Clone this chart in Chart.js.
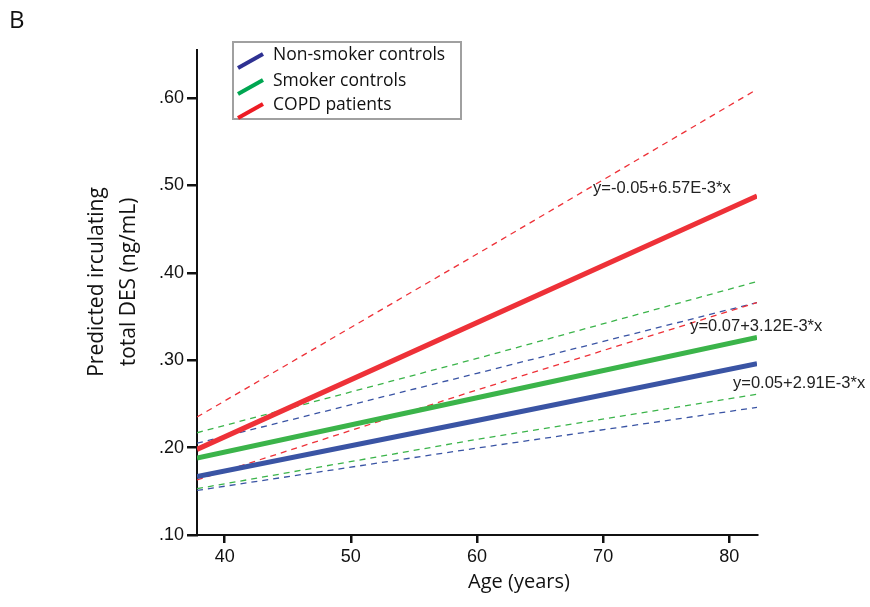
<!DOCTYPE html>
<html>
<head>
<meta charset="utf-8">
<script src="https://cdn.jsdelivr.net/npm/chart.js@4.4.0/dist/chart.umd.min.js"></script>
<style>
  html, body { margin: 0; padding: 0; background: #fff; }
</style>
</head>
<body>
<canvas id="regChart" width="870" height="607"></canvas>
<script>
var ages = [37.8, 60, 82.2];
var xTicks = [40, 50, 60, 70, 80];
var yTicks = [0.10, 0.20, 0.30, 0.40, 0.50, 0.60];

var groupNames = ['Non-smoker controls', 'Smoker controls', 'COPD patients'];

var nonSmoker      = [0.167, 0.231, 0.296];
var nonSmokerUpper = [0.205, 0.285, 0.366];
var nonSmokerLower = [0.151, 0.1995, 0.246];

var smoker      = [0.188, 0.257, 0.326];
var smokerUpper = [0.217, 0.302, 0.390];
var smokerLower = [0.153, 0.2095, 0.261];

var copd      = [0.198, 0.343, 0.488];
var copdUpper = [0.235, 0.4215, 0.610];
var copdLower = [0.163, 0.266, 0.366];

var equations = ['y=0.05+2.91E-3*x', 'y=0.07+3.12E-3*x', 'y=-0.05+6.57E-3*x'];

var lineColors   = ['#3a54a4', '#3bb44a', '#ee3138'];
var legendColors = ['#2e3192', '#00a651', '#ed1c24'];

function pts(vals) {
  return vals.map(function (v, i) { return { x: ages[i], y: v }; });
}

function solid(label, vals, color) {
  return { label: label, data: pts(vals), borderColor: color, borderWidth: 5,
           pointRadius: 0, tension: 0, fill: false, borderCapStyle: 'butt' };
}
function dashed(label, vals, color) {
  return { label: label, data: pts(vals), borderColor: color, borderWidth: 1.3,
           borderDash: [6, 5], pointRadius: 0, tension: 0, fill: false };
}

var datasets = [
  solid(groupNames[2], copd, lineColors[2]),
  solid(groupNames[1], smoker, lineColors[1]),
  solid(groupNames[0], nonSmoker, lineColors[0]),
  dashed('COPD upper', copdUpper, lineColors[2]),
  dashed('COPD lower', copdLower, lineColors[2]),
  dashed('Smoker upper', smokerUpper, lineColors[1]),
  dashed('Smoker lower', smokerLower, lineColors[1]),
  dashed('Non-smoker upper', nonSmokerUpper, lineColors[0]),
  dashed('Non-smoker lower', nonSmokerLower, lineColors[0])
];

var sansFont = '"Open Sans", "Noto Sans", sans-serif';
var arialFont = '"Liberation Sans", Arial, sans-serif';

// titles, legend box and equation labels
var extrasPlugin = {
  id: 'extras',
  afterDraw: function (chart) {
    var ctx = chart.ctx, area = chart.chartArea;
    var xs = chart.scales.x, ys = chart.scales.y;
    ctx.save();

    // panel letter
    ctx.fillStyle = '#111';
    ctx.font = '24px ' + sansFont;
    ctx.textAlign = 'left';
    ctx.textBaseline = 'middle';
    ctx.fillText('B', 9, 21);

    // y title (two lines, rotated)
    ctx.save();
    ctx.font = '21px ' + sansFont;
    ctx.textAlign = 'center';
    ctx.textBaseline = 'middle';
    ctx.translate(97, 282);
    ctx.rotate(-Math.PI / 2);
    ctx.fillText('Predicted irculating', 0, 0);
    ctx.fillText('total DES (ng/mL)', 0, 32);
    ctx.restore();

    // x title
    ctx.font = '20px ' + sansFont;
    ctx.textAlign = 'center';
    ctx.textBaseline = 'middle';
    ctx.fillText('Age (years)', 519, 582);

    // legend box
    var bx = area.left + 36, by = 42, bw = 228, bh = 77;
    ctx.strokeStyle = '#a0a0a0';
    ctx.lineWidth = 2;
    ctx.strokeRect(bx, by, bw, bh);
    ctx.font = '17.5px ' + sansFont;
    ctx.textAlign = 'left';
    var rowY = [55, 81, 105];
    for (var i = 0; i < groupNames.length; i++) {
      ctx.strokeStyle = legendColors[i];
      ctx.lineWidth = 4;
      ctx.lineCap = 'butt';
      ctx.beginPath();
      ctx.moveTo(bx + 5, rowY[i] + 13);
      ctx.lineTo(bx + 30, rowY[i] - 1);
      ctx.stroke();
      ctx.fillStyle = '#111';
      ctx.fillText(groupNames[i], bx + 40, rowY[i]);
    }

    // regression equations
    ctx.font = '16.5px ' + arialFont;
    ctx.fillStyle = '#222';
    ctx.textAlign = 'left';
    var eqPos = [[80.3, 0.273], [76.9, 0.339], [69.2, 0.497]];
    for (var j = 0; j < equations.length; j++) {
      ctx.fillText(equations[j], xs.getPixelForValue(eqPos[j][0]), ys.getPixelForValue(eqPos[j][1]));
    }
    ctx.restore();
  }
};

var ctx = document.getElementById('regChart').getContext('2d');
var chart = new Chart(ctx, {
  type: 'line',
  data: { datasets: datasets },
  options: {
    responsive: false,
    animation: false,
    layout: { padding: { top: 50, right: 113, left: 0, bottom: 0 } },
    plugins: { legend: { display: false }, tooltip: { enabled: false } },
    scales: {
      x: {
        type: 'linear',
        min: ages[0],
        max: ages[ages.length - 1],
        afterBuildTicks: function (scale) {
          scale.ticks = xTicks.map(function (v) { return { value: v }; });
        },
        afterFit: function (scale) { scale.height = 72; },
        grid: { drawOnChartArea: false, drawTicks: true, tickLength: 8, color: '#111', lineWidth: 2.5 },
        border: { display: true, color: '#111', width: 2 },
        ticks: { color: '#111', padding: 3, maxRotation: 0, font: { family: arialFont, size: 18 } }
      },
      y: {
        type: 'linear',
        min: 0.10,
        max: 0.655,
        afterBuildTicks: function (scale) {
          scale.ticks = yTicks.map(function (v) { return { value: v }; });
        },
        afterFit: function (scale) { scale.width = 197; },
        grid: { drawOnChartArea: false, drawTicks: true, tickLength: 10, color: '#111', lineWidth: 2.5 },
        border: { display: true, color: '#111', width: 2 },
        ticks: {
          color: '#111', padding: 3, font: { family: arialFont, size: 18 },
          callback: function (v) { return v.toFixed(2).replace(/^0/, ''); }
        }
      }
    }
  },
  plugins: [extrasPlugin]
});
</script>
</body>
</html>
